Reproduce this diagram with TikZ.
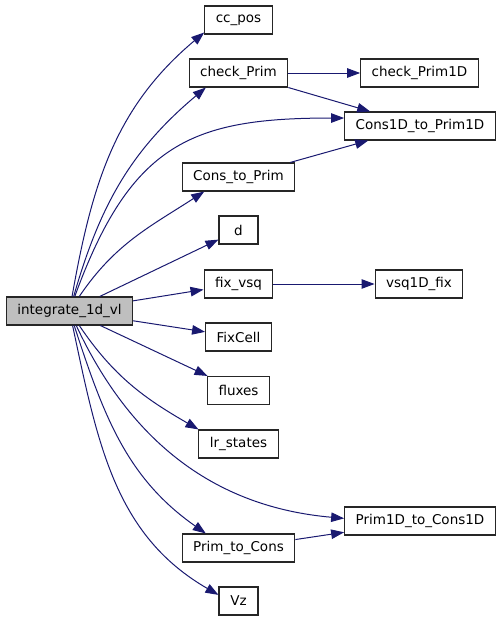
\documentclass[tikz,border=0pt]{standalone}
\usepackage{fontspec}
\setmainfont{DejaVu Sans}
\usetikzlibrary{arrows.meta}

\definecolor{edgeBlue}{HTML}{191970}
\definecolor{mainGray}{HTML}{BFBFBF}
\def \boxHeight {28pt}

\begin{document}
\begin{tikzpicture}[x=1pt, y=1pt,
      fn/.style={draw=black!85, line width=1.1pt, minimum height=\boxHeight,
         minimum width=39pt, inner xsep=11pt, inner ysep=0pt,
         font=\fontsize{13.5}{16}\selectfont},
      call/.style={draw=edgeBlue, line width=1pt,
         -{Triangle[length=13pt, width=9.5pt]}}]

      \useasboundingbox (0,0) rectangle (501,-621);

      % caller
      \node[fn, fill=mainGray] (integrate) at (69.5,-311) {integrate\_1d\_vl};

      % direct callees
      \node[fn] (ccPos)      at (238.5,-20)    {cc\_pos};
      \node[fn] (checkPrim)  at (238.5,-73)    {check\_Prim};
      \node[fn] (consToPrim) at (238.5,-177)   {Cons\_to\_Prim};
      \node[fn] (d)          at (238.5,-230)   {d};
      \node[fn] (fixVsq)     at (238.5,-284)   {fix\_vsq};
      \node[fn] (fixCell)    at (238.5,-337)   {FixCell};
      \node[fn] (fluxes)     at (238.5,-390.5) {fluxes};
      \node[fn] (lrStates)   at (238.5,-444)   {lr\_states};
      \node[fn] (primToCons) at (238.5,-548)   {Prim\_to\_Cons};
      \node[fn] (vz)         at (238.5,-601)   {Vz};

      % second level
      \node[fn] (checkPrimOneD)  at (419.5,-73)  {check\_Prim1D};
      \node[fn] (consToPrimOneD) at (420,-126)   {Cons1D\_to\_Prim1D};
      \node[fn] (vsqFix)         at (419,-284)   {vsq1D\_fix};
      \node[fn] (primToConsOneD) at (420,-521)   {Prim1D\_to\_Cons1D};

      % calls from integrate_1d_vl
      \draw[call] (integrate) to[out=80, in=220] (ccPos.200);
      \draw[call] (integrate) to[out=74, in=220] (checkPrim.204);
      \draw[call] (integrate) to[out=70, in=180, out looseness=1.3, in looseness=1.2] (consToPrimOneD.174);
      \draw[call] (integrate) to[out=56, in=213] (consToPrim.203);
      \draw[call] (integrate) -- (d);
      \draw[call] (integrate) -- (fixVsq);
      \draw[call] (integrate) -- (fixCell);
      \draw[call] (integrate) -- (fluxes);
      \draw[call] (integrate) to[out=-56, in=150] (lrStates.160);
      \draw[call] (integrate) to[out=-65, in=175] (primToConsOneD.178);
      \draw[call] (integrate) to[out=-72, in=145] (primToCons.156);
      \draw[call] (integrate) to[out=-78, in=150] (vz.163);

      % calls one level down
      \draw[call] (checkPrim) -- (checkPrimOneD);
      \draw[call] (checkPrim) -- (consToPrimOneD);
      \draw[call] (consToPrim) -- (consToPrimOneD);
      \draw[call] (fixVsq) -- (vsqFix);
      \draw[call] (primToCons) -- (primToConsOneD);

   \end{tikzpicture}
\end{document}
